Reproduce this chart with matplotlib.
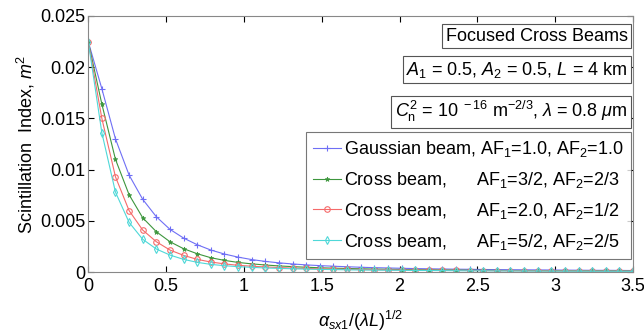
import numpy as np
import matplotlib.pyplot as plt

plt.rcParams['font.family'] = ['Liberation Sans', 'DejaVu Sans']
plt.rcParams['mathtext.fontset'] = 'custom'
plt.rcParams['mathtext.rm'] = 'Liberation Sans'
plt.rcParams['mathtext.it'] = 'Liberation Sans:italic'

# normalized source size, step 3.5/40
x = [0.0, 0.0875, 0.175, 0.2625, 0.35, 0.4375, 0.525, 0.6125, 0.7, 0.7875,
     0.875, 0.9625, 1.05, 1.1375, 1.225, 1.3125, 1.4, 1.4875, 1.575, 1.6625,
     1.75, 1.8375, 1.925, 2.0125, 2.1, 2.1875, 2.275, 2.3625, 2.45, 2.5375,
     2.625, 2.7125, 2.8, 2.8875, 2.975, 3.0625, 3.15, 3.2375, 3.325, 3.4125, 3.5]

gauss = [0.0225, 0.0179, 0.0130, 0.00947, 0.0071, 0.0054, 0.00417, 0.00332, 0.00267, 0.00215,
         0.00176, 0.00146, 0.00122, 0.00104, 0.00090, 0.00079, 0.00070, 0.00063, 0.00057, 0.00052,
         0.00047, 0.00043, 0.00040, 0.00037, 0.00034, 0.00032, 0.00030, 0.00028, 0.00027, 0.00025,
         0.00024, 0.00023, 0.00022, 0.00021, 0.00020, 0.00019, 0.00018, 0.00017, 0.00017, 0.00016, 0.00015]
cross_32 = [0.0225, 0.0164, 0.0110, 0.00755, 0.0053, 0.00394, 0.00296, 0.00228, 0.00179, 0.00140,
            0.00114, 0.00094, 0.00080, 0.00069, 0.00060, 0.00053, 0.00047, 0.00042, 0.00038, 0.00035,
            0.00032, 0.00029, 0.00027, 0.00025, 0.00023, 0.00022, 0.00020, 0.00019, 0.00018, 0.00017,
            0.00016, 0.00015, 0.00015, 0.00014, 0.00013, 0.00013, 0.00012, 0.00012, 0.00011, 0.00011, 0.00010]
cross_20 = [0.0225, 0.0150, 0.0093, 0.0060, 0.0041, 0.00296, 0.00215, 0.00163, 0.00124, 0.00098,
            0.00080, 0.00066, 0.00057, 0.00050, 0.00044, 0.00039, 0.00035, 0.00032, 0.00029, 0.00027,
            0.00025, 0.00023, 0.00021, 0.00020, 0.00019, 0.00018, 0.00017, 0.00016, 0.00015, 0.00014,
            0.00013, 0.00013, 0.00012, 0.00012, 0.00011, 0.00011, 0.00010, 0.00010, 0.00009, 0.00009, 0.00009]
cross_52 = [0.0225, 0.0136, 0.0078, 0.00485, 0.0032, 0.00225, 0.00166, 0.00124, 0.00095, 0.00075,
            0.00062, 0.00053, 0.00046, 0.00040, 0.00036, 0.00032, 0.00029, 0.00026, 0.00024, 0.00022,
            0.00020, 0.00019, 0.00018, 0.00017, 0.00016, 0.00015, 0.00014, 0.00013, 0.00012, 0.00012,
            0.00011, 0.00011, 0.00010, 0.00010, 0.00009, 0.00009, 0.00009, 0.00008, 0.00008, 0.00008, 0.00007]

labels = ['Gaussian beam, AF$_1$=1.0, AF$_2$=1.0',
          'Cross beam,      AF$_1$=3/2, AF$_2$=2/3',
          'Cross beam,      AF$_1$=2.0, AF$_2$=1/2',
          'Cross beam,      AF$_1$=5/2, AF$_2$=2/5']

fs = 13

fig = plt.figure(figsize=(6.44, 3.33), dpi=100)
ax = fig.add_axes([0.137, 0.183, 0.846, 0.769])

ax.plot(x, gauss, color='#6f6ff5', marker='+', ms=5, mew=0.8, lw=0.8, label=labels[0])
ax.plot(x, cross_32, color='#3d963d', marker='*', ms=3.5, mew=0.5, lw=0.8, label=labels[1])
ax.plot(x, cross_20, color='#f56a6a', marker='o', ms=4, mfc='none', mew=0.8, lw=0.8, label=labels[2])
ax.plot(x, cross_52, color='#4fd8d8', marker='d', ms=4, mfc='none', mew=0.8, lw=0.8, label=labels[3])

ax.set_xlim(0, 3.5)
ax.set_ylim(0, 0.025)
ax.set_xticks([0, 0.5, 1, 1.5, 2, 2.5, 3, 3.5])
ax.set_xticklabels(['0', '0.5', '1', '1.5', '2', '2.5', '3', '3.5'])
ax.set_yticks([0, 0.005, 0.01, 0.015, 0.02, 0.025])
ax.set_yticklabels(['0', '0.005', '0.01', '0.015', '0.02', '0.025'])
ax.tick_params(direction='in', labelsize=fs, length=4, top=True, right=True, pad=2)
ax.tick_params(axis='x', pad=4)
for s in ax.spines.values():
    s.set_color('#888888')

ax.set_ylabel('Scintillation  Index, $m^2$', fontsize=fs, labelpad=2)
ax.set_xlabel(r'$\alpha_{sx1}/(\lambda L)^{1/2}$', fontsize=fs, labelpad=10)

box = dict(boxstyle='square,pad=0.2', fc='white', ec='#555555', lw=0.8)
ax.text(0.99, 0.955, 'Focused Cross Beams', transform=ax.transAxes, fontsize=fs,
        ha='right', va='top', bbox=box)
ax.text(0.99, 0.83, '$A_1$ = 0.5, $A_2$ = 0.5, $L$ = 4 km', transform=ax.transAxes,
        fontsize=fs, ha='right', va='top', bbox=box)
ax.text(0.99, 0.675, r'$C_\mathrm{n}^2$ = 10$^{\ -16}$ m$^{-2/3}$, $\lambda$ = 0.8 $\mu$m',
        transform=ax.transAxes, fontsize=fs, ha='right', va='top', bbox=box)

leg = ax.legend(loc='lower right', bbox_to_anchor=(1.0, 0.045), fontsize=fs, frameon=True,
                fancybox=False, edgecolor='#555555', handlelength=1.5, handletextpad=0.2,
                borderpad=0.4, labelspacing=0.6, borderaxespad=0.1)
leg.get_frame().set_linewidth(0.8)

fig.savefig('out.png', dpi=100)
